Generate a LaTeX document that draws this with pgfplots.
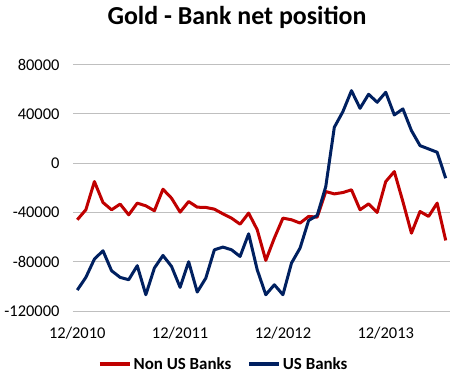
\documentclass[border=0pt]{standalone}
\usepackage{pgfplots}
\pgfplotsset{compat=1.18}
\usepackage{fontspec}
\setmainfont{Carlito}
\definecolor{nonus}{HTML}{C00000}
\definecolor{usb}{HTML}{002060}
\definecolor{gridc}{HTML}{BFBFBF}
\begin{document}
\begin{tikzpicture}
\useasboundingbox (-73bp,-70bp) rectangle (377bp,311bp);
\begin{axis}[
  at={(0,0)}, anchor=south west,
  scale only axis, width=377bp, height=246.3bp,
  xmin=-0.5, xmax=43.5, ymin=-120000, ymax=80000,
  xtick={0,12,24,36}, xticklabels={12/2010,12/2011,12/2012,12/2013},
  ytick={-120000,-80000,-40000,0,40000,80000},
  scaled y ticks=false,
  /pgf/number format/.cd, fixed, set thousands separator={}, assume math mode=true,
  /pgfplots/.cd,
  major tick length=0pt,
  tick label style={font=\fontsize{16.5}{18}\selectfont},
  yticklabel style={xshift=-10bp},
  xticklabel style={yshift=-13bp},
  ymajorgrids, grid style={gridc, line width=1bp},
  axis x line*=bottom,
  axis y line*=left,
  x axis line style={draw=gridc, line width=1bp, -},
  y axis line style={draw=none},
  clip=false,
  legend columns=2,
  legend style={draw=none, fill=none, at={(0.40,-0.215)}, anchor=center,
    font=\bfseries\fontsize{17}{19}\selectfont,
    /tikz/every even column/.append style={column sep=14bp}},
  legend image code/.code={\draw[#1, line width=3.5bp] (0bp,0bp) -- (30bp,0bp);},
]
\addplot[nonus, line width=3bp, line join=round] coordinates {
(0,-45900)(1,-37800)(2,-14900)(3,-31900)(4,-37800)(5,-33200)(6,-41900)(7,-32400)(8,-34600)(9,-38600)
(10,-21100)(11,-28400)(12,-39700)(13,-31100)(14,-35700)(15,-35900)(16,-37300)(17,-41100)(18,-44600)(19,-49500)
(20,-40500)(21,-54000)(22,-78900)(23,-60800)(24,-44600)(25,-45900)(26,-48600)(27,-43200)(28,-43800)(29,-23000)
(30,-24900)(31,-23800)(32,-21600)(33,-37800)(34,-33000)(35,-40000)(36,-14900)(37,-6800)(38,-31100)(39,-56800)
(40,-39200)(41,-43200)(42,-32400)(43,-62700)};
\addlegendentry{Non US Banks}
\addplot[usb, line width=3bp, line join=round] coordinates {
(0,-103000)(1,-92700)(2,-77800)(3,-71100)(4,-87300)(5,-92700)(6,-94600)(7,-83200)(8,-106800)(9,-85100)
(10,-74900)(11,-83800)(12,-100800)(13,-80000)(14,-104600)(15,-93300)(16,-70300)(17,-68100)(18,-70300)(19,-75700)
(20,-57300)(21,-86500)(22,-106800)(23,-98700)(24,-106800)(25,-81100)(26,-68900)(27,-46500)(28,-42400)(29,-19000)
(30,29200)(31,41900)(32,58900)(33,44600)(34,56000)(35,49500)(36,57600)(37,39200)(38,44100)(39,26500)
(40,14300)(41,11600)(42,8900)(43,-12200)};
\addlegendentry{US Banks}
\end{axis}
\node[font=\bfseries\fontsize{26}{29}\selectfont] at (164bp,294bp) {Gold - Bank net position};
\end{tikzpicture}
\end{document}
